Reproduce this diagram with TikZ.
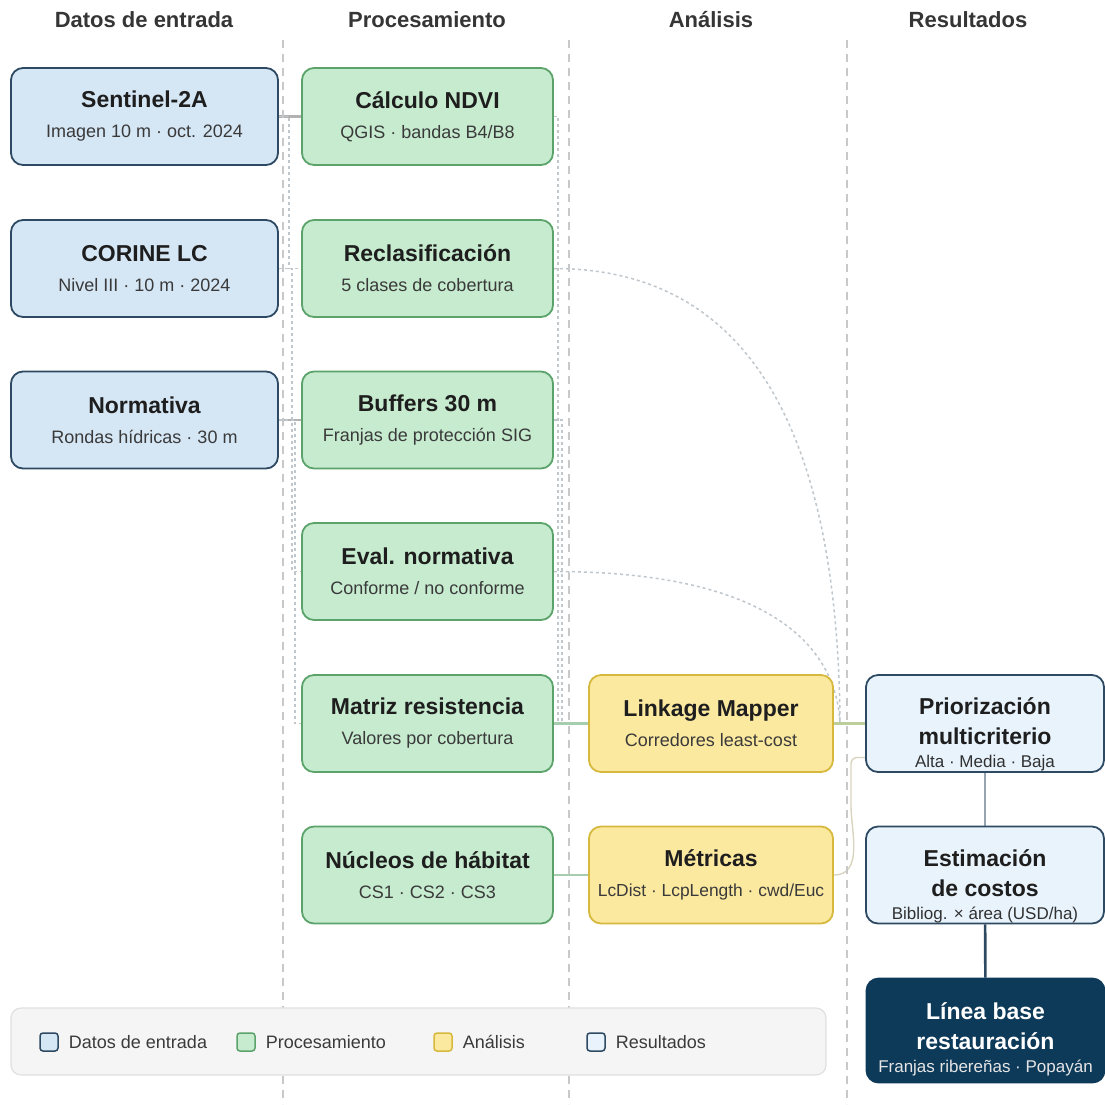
\documentclass[tikz,border=0pt]{standalone}
\usepackage{fontspec}
\setmainfont{Liberation Sans}
\usetikzlibrary{positioning}
\usetikzlibrary{backgrounds}

\definecolor{inFill}{HTML}{D5E6F5}
\definecolor{inDraw}{HTML}{2E4A62}
\definecolor{prFill}{HTML}{C6EBCF}
\definecolor{prDraw}{HTML}{5BA36B}
\definecolor{anFill}{HTML}{FCE9A0}
\definecolor{anDraw}{HTML}{D6B83C}
\definecolor{reFill}{HTML}{E8F3FC}
\definecolor{baseFill}{HTML}{0E3A5A}
\definecolor{txtDark}{HTML}{1E1E1E}
\definecolor{txtSub}{HTML}{3A3A3A}
\definecolor{sepGray}{HTML}{C8C8C8}
\definecolor{dotGray}{HTML}{BFC6CC}

\newcommand{\boxtxt}[2]{{\fontsize{23}{24}\selectfont\bfseries\color{txtDark}#1}\\[8pt]{\color{txtSub}#2}}
\newcommand{\restxt}[4]{\fontsize{23}{24}\selectfont\bfseries\color{#4}#1\\[8pt]
	\fontsize{23}{24}\selectfont\bfseries\color{#4}#2\\[1pt]
	\fontsize{17}{20}\selectfont\mdseries\color{#4!80!gray}#3}

\begin{document}
\begin{tikzpicture}[x=1pt,y=-1pt,
		every node/.style={font=\fontsize{18}{22}\selectfont},
		stage/.style={rounded corners=12pt,line width=1.8pt,align=center,
			inner sep=0pt,minimum height=97pt},
		inbox/.style={stage,fill=inFill,draw=inDraw,minimum width=267pt},
		prbox/.style={stage,fill=prFill,draw=prDraw,minimum width=251pt},
		anbox/.style={stage,fill=anFill,draw=anDraw,minimum width=244pt},
		resbox/.style={stage,fill=reFill,draw=inDraw,minimum width=238pt},
		restext/.style={align=center,inner sep=0pt},
		head/.style={font=\fontsize{22}{24}\selectfont\bfseries,text=txtDark!90},
		sep/.style={sepGray,line width=1.2pt,dash pattern=on 8pt off 6pt},
		feed/.style={dotGray,line width=1.5pt,dash pattern=on 3pt off 3pt},
		link/.style={line width=2.4pt},
		legsq/.style={rounded corners=3pt,line width=1.5pt,minimum size=18pt,inner sep=0pt},
		legtxt/.style={text=txtSub,inner sep=2pt}]
	\useasboundingbox (0,0) rectangle (1105,1104);

	\draw[sep] (283,40) -- (283,1104);
	\draw[sep] (569,40) -- (569,1104);
	\draw[sep] (847,40) -- (847,1104);

	\node[head] (h1) at (144,20) {Datos de entrada};
	\node[head] (h2) at (427,20) {Procesamiento};
	\node[head] (h3) at (711,20) {Análisis};
	\node[head] (h4) at (968,20) {Resultados};

	\node[inbox] (sen) at (144.5,116.5) {\boxtxt{Sentinel-2A}{Imagen 10 m · oct. 2024}};
	\node[inbox] (cor) at (144.5,268.5) {\boxtxt{CORINE LC}{Nivel III · 10 m · 2024}};
	\node[inbox] (nor) at (144.5,420) {\boxtxt{Normativa}{Rondas hídricas · 30 m}};

	\node[prbox] (ndvi) at (427.5,116.5) {\boxtxt{Cálculo NDVI}{QGIS · bandas B4/B8}};
	\node[prbox] (rec) at (427.5,268.5) {\boxtxt{Reclasificación}{5 clases de cobertura}};
	\node[prbox] (buf) at (427.5,420) {\boxtxt{Buffers 30 m}{Franjas de protección SIG}};
	\node[prbox] (eva) at (427.5,571.5) {\boxtxt{Eval. normativa}{Conforme / no conforme}};
	\node[prbox] (mat) at (427.5,723.5) {\boxtxt{Matriz resistencia}{Valores por cobertura}};
	\node[prbox] (nuc) at (427.5,875) {\boxtxt{Núcleos de hábitat}{CS1 · CS2 · CS3}};

	\node[anbox] (lin) at (711,723.5) {\boxtxt{Linkage Mapper}{Corredores least-cost}};
	\node[anbox] (met) at (711,875) {\boxtxt{Métricas}{\fontsize{17.4}{22}\selectfont LcDist · LcpLength · cwd/Euc}};

	\node[resbox,label={[restext,yshift=-11pt]center:{\restxt{Priorización}{multicriterio}{Alta · Media · Baja}{txtDark}}}] (prio) at (985,723.5) {};
	\node[resbox,label={[restext,yshift=-11pt]center:{\restxt{Estimación}{de costos}{Bibliog. × área (USD/ha)}{txtDark}}}] (est) at (985,875) {};
	\node[stage,fill=baseFill,draw=baseFill,minimum width=238pt,minimum height=104pt,
		label={[restext,yshift=-9pt]center:{\restxt{Línea base}{restauración}{Franjas ribereñas · Popayán}{white}}}] (lb) at (985.5,1030.5) {};

	\node[rounded corners=10pt,fill=black!4,draw=black!12,line width=1.2pt,
		minimum width=815pt,minimum height=67pt] (leg) at (418.5,1041.5) {};
	\node[legsq,fill=inFill,draw=inDraw] (lg1) at (49,1042) {};
	\node[legtxt,right=8pt of lg1] (lt1) {Datos de entrada};
	\node[legsq,fill=prFill,draw=prDraw] (lg2) at (246,1042) {};
	\node[legtxt,right=8pt of lg2] (lt2) {Procesamiento};
	\node[legsq,fill=anFill,draw=anDraw] (lg3) at (443,1042) {};
	\node[legtxt,right=8pt of lg3] (lt3) {Análisis};
	\node[legsq,fill=reFill,draw=inDraw] (lg4) at (596,1042) {};
	\node[legtxt,right=8pt of lg4] (lt4) {Resultados};

	\begin{scope}[on background layer]
		\draw[link,black!30] (sen) -- (ndvi);
		\draw[link,black!30] (nor) -- (buf);
		\draw[feed] (sen.east) -- (289,116.5) -- (289,268.5) -- (rec.west);
		\draw[feed] (cor.east) -- (292,268.5) |- (eva.west);
		\draw[feed] (nor.east) -- (295,420) |- (mat.west);
		\draw[feed] (ndvi.east) -- (558,116.5) |- (lin.west);
		\draw[feed] (buf.east) -- (562,420) |- (lin.west);
		\draw[feed] (rec.east) .. controls (760,268.5) and (838,450) .. (840,723.5) -- (prio.west);
		\draw[feed] (eva.east) .. controls (760,571.5) and (836,640) .. (840,723.5) -- (prio.west);
		\draw[link,prDraw!55] (mat) -- (lin);
		\draw[link,prDraw!55] (nuc) -- (met);
		\draw[link,anDraw!45!prDraw!60] (lin) -- (prio);
		\draw[anDraw!60!black!30,line width=1.4pt,rounded corners=6pt] (met.east) to[out=0,in=-90] (851,800) |- ([yshift=-34pt]prio.west);
		\draw[line width=2.2pt,inDraw!50] (prio) -- (est);
		\draw[line width=2.6pt,inDraw] (est) -- (lb);
	\end{scope}
\end{tikzpicture}
\end{document}
